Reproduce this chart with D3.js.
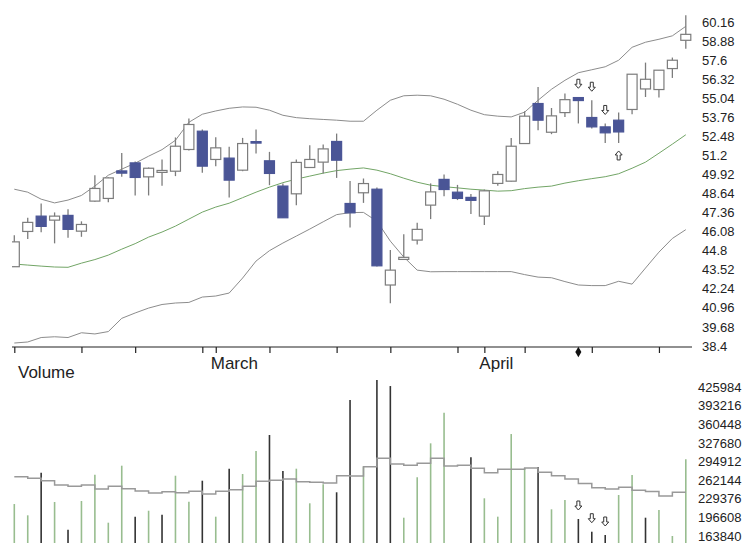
<!DOCTYPE html>
<html>
<head>
<meta charset="utf-8">
<script src="https://cdnjs.cloudflare.com/ajax/libs/d3/7.8.5/d3.min.js"></script>
<style>
body{margin:0;background:#fff;}
svg text{font-family:"Liberation Sans Narrow","Arial Narrow","Liberation Sans",Arial,sans-serif;fill:#222;}
</style>
</head>
<body>
<div id="chart"></div>
<script>
var W = 750, H = 559;

// daily candles
var opens  = [43.73,46.10,47.13,46.86,47.18,46.12,48.14,48.32,50.17,50.71,49.77,50.07,50.15,51.61,52.84,50.94,51.03,50.22,52.14,50.85,49.15,48.63,50.40,50.76,52.15,47.98,48.70,48.94,42.50,44.22,45.52,47.87,49.60,48.74,48.39,47.13,49.33,49.48,52.01,54.70,52.77,54.09,55.10,53.76,53.13,53.58,54.30,55.68,55.64,57.05,58.95];
var highs  = [45.85,47.02,47.98,47.38,47.60,46.78,49.88,49.75,51.38,50.80,50.40,50.94,52.42,53.69,52.95,52.44,51.79,52.39,52.95,51.45,49.33,50.94,51.90,51.95,52.68,49.50,49.66,49.06,44.85,45.92,46.68,49.33,49.93,49.23,48.61,48.92,50.15,52.39,54.18,55.81,54.40,55.37,55.12,54.92,53.36,54.09,56.67,57.45,56.94,57.79,60.63];
var lows   = [43.73,45.59,46.04,45.30,45.67,45.74,48.09,48.07,49.77,48.52,48.52,49.17,49.82,51.55,50.04,50.49,48.38,50.15,51.34,49.21,47.00,47.87,50.38,50.00,49.70,46.37,48.02,43.75,41.27,44.20,45.23,46.93,48.47,48.21,47.27,46.53,49.17,49.45,51.98,52.91,52.64,53.80,53.36,53.02,52.05,52.05,53.98,55.14,55.10,56.42,58.39];
var closes = [45.40,46.71,46.44,47.13,46.24,46.57,48.99,49.70,50.02,49.73,50.35,50.20,51.83,53.29,50.49,51.72,49.55,52.01,52.06,50.00,47.02,50.74,50.94,51.65,50.89,47.35,49.32,43.79,43.50,44.36,46.24,48.76,48.92,48.32,48.19,48.83,49.93,51.83,53.85,53.58,53.87,54.96,54.90,53.13,52.73,52.79,56.67,56.33,56.94,57.61,59.35];

// bollinger bands
var upperBand = [48.94,48.74,48.27,48.02,48.21,48.52,49.15,49.88,50.29,50.69,51.16,51.60,52.23,53.44,53.98,54.20,54.38,54.47,54.45,54.25,53.91,53.75,53.68,53.63,53.58,53.51,53.51,54.25,54.92,55.22,55.26,55.22,54.99,54.65,54.25,53.95,53.85,53.80,54.12,54.92,55.66,56.26,56.77,56.97,57.17,57.61,58.48,58.82,59.02,59.25,59.89];
var midBand   = [43.91,43.84,43.77,43.71,43.69,43.97,44.21,44.51,44.91,45.28,45.72,46.06,46.46,46.93,47.40,47.74,48.00,48.37,48.74,49.08,49.38,49.62,49.82,50.02,50.19,50.29,50.37,50.22,49.98,49.68,49.41,49.21,49.11,49.03,48.94,48.88,48.81,48.84,48.98,49.08,49.15,49.35,49.51,49.65,49.78,49.98,50.35,50.76,51.36,51.97,52.60];
var lowerBand = [38.60,38.67,38.97,39.02,38.97,39.29,39.21,39.37,40.26,40.62,40.95,41.19,41.29,41.33,41.69,41.76,41.96,42.97,44.11,44.81,45.32,45.79,46.26,46.75,47.23,47.37,47.38,46.79,45.45,44.38,43.50,43.39,43.40,43.40,43.40,43.40,43.40,43.40,43.20,43.03,42.99,42.73,42.50,42.46,42.46,42.75,42.56,43.64,44.71,45.63,46.22];

// volume and its moving average
var volumes   = [220200,200300,275400,223800,174900,225500,271900,187300,287800,197900,208400,201400,270100,224300,261300,197900,282500,273100,313700,341900,278400,282500,221500,255000,240900,403600,286000,438800,428200,196100,267300,327200,381200,140000,302600,230300,197900,343600,283700,285500,210900,227300,193800,171400,165600,236100,271400,196100,209700,163840,299000];
var volumeAvg = [268400,265500,261300,253700,251400,253700,246700,251400,247200,243200,239600,241900,240200,242600,237900,242600,245500,251400,260300,262000,264300,259600,258500,257300,270100,269600,286000,300800,290800,288500,292000,300800,287200,288500,283200,275400,281400,281400,283700,276100,270100,264300,256400,249000,246700,249900,244600,242300,234300,241000,241000];

var priceTicks  = [38.4,39.68,40.96,42.24,43.52,44.8,46.08,47.36,48.64,49.92,51.2,52.48,53.76,55.04,56.32,57.6,58.88,60.16];
var volumeTicks = [163840,196608,229376,262144,294912,327680,360448,393216,425984];
var weekTicks   = [0,5,9,14,19,24,28,33,38,43,48];
var monthTicks  = [15,35];
var monthLabels = ["March","April"];
var sellSignals = [42,43,44];
var buySignals  = [45];
var markerDay   = 42;

var upColor = "#ffffff";
var downColor = "#4a5596";
var wickColor = "#7c7c7c";
var volUpColor = "#98bd8f";
var volDownColor = "#333333";

var plotLeft = 12, plotRight = 692;
var priceBottom = 347, volTop = 378, volBottom = 543;

var svg = d3.select("#chart").append("svg")
	.attr("width", W).attr("height", H)
	.attr("viewBox", "0 0 " + W + " " + H);

var x = d3.scaleLinear().domain([0, closes.length - 1]).range([14.3, 685.8]);
var y = d3.scaleLinear().domain([38.4, 60.16]).range([346, 22.3]);
var yV = d3.scaleLinear().domain([163840, 425984]).range([536, 387.3]);

svg.append("clipPath").attr("id", "clipP").append("rect")
	.attr("x", plotLeft).attr("y", 0).attr("width", plotRight - plotLeft).attr("height", priceBottom);
svg.append("clipPath").attr("id", "clipV").append("rect")
	.attr("x", plotLeft).attr("y", volTop).attr("width", plotRight - plotLeft).attr("height", volBottom - volTop);

var idx = d3.range(closes.length);

// bands
var pricePane = svg.append("g").attr("clip-path", "url(#clipP)");
function bandLine(arr){
	return d3.line().x(function(i){ return x(i); }).y(function(i){ return y(arr[i]); })(idx);
}
pricePane.append("path").attr("d", bandLine(upperBand)).attr("fill", "none").attr("stroke", "#8c8c8c").attr("stroke-width", 1);
pricePane.append("path").attr("d", bandLine(lowerBand)).attr("fill", "none").attr("stroke", "#8c8c8c").attr("stroke-width", 1);
pricePane.append("path").attr("d", bandLine(midBand)).attr("fill", "none").attr("stroke", "#72a566").attr("stroke-width", 1);

// candles
var candle = pricePane.selectAll("g.candle").data(idx).enter().append("g").attr("class", "candle");
candle.append("line")
	.attr("x1", function(i){ return x(i); }).attr("x2", function(i){ return x(i); })
	.attr("y1", function(i){ return y(highs[i]); }).attr("y2", function(i){ return y(lows[i]); })
	.attr("stroke", wickColor).attr("stroke-width", 1.3);
candle.append("rect")
	.attr("x", function(i){ return x(i) - 5; })
	.attr("width", 10)
	.attr("y", function(i){ return y(Math.max(opens[i], closes[i])); })
	.attr("height", function(i){ return Math.max(1.5, Math.abs(y(opens[i]) - y(closes[i]))); })
	.attr("fill", function(i){ return closes[i] >= opens[i] ? upColor : downColor; })
	.attr("stroke", function(i){ return closes[i] >= opens[i] ? wickColor : downColor; })
	.attr("stroke-width", 1.2);

// hollow arrows
function arrowPath(cx, tipY, dir){
	// dir 1 = pointing down, -1 = pointing up
	var p = [[0,0],[-3.5,-4],[-1.5,-4],[-1.5,-9],[1.5,-9],[1.5,-4],[3.5,-4]];
	return "M" + p.map(function(q){ return (cx + q[0]) + "," + (tipY + q[1] * dir); }).join("L") + "Z";
}
svg.selectAll("path.sell").data(sellSignals).enter().append("path")
	.attr("d", function(i){ return arrowPath(x(i), y(highs[i]) - 9, 1); })
	.attr("fill", "#fff").attr("stroke", "#333").attr("stroke-width", 1);
svg.selectAll("path.buy").data(buySignals).enter().append("path")
	.attr("d", function(i){ return arrowPath(x(i), y(lows[i]) + 8, -1); })
	.attr("fill", "#fff").attr("stroke", "#333").attr("stroke-width", 1);

// time axis
svg.append("line").attr("x1", plotLeft).attr("x2", plotRight).attr("y1", priceBottom).attr("y2", priceBottom)
	.attr("stroke", "#222").attr("stroke-width", 1.2);
var axis = svg.append("g").attr("transform", "translate(0," + priceBottom + ")")
	.call(d3.axisBottom(x).tickValues(weekTicks.concat(monthTicks)).tickSize(6).tickFormat(""));
axis.select(".domain").remove();
axis.selectAll(".tick line").attr("stroke", "#222").attr("stroke-width", 1.2);
svg.selectAll("text.month").data(monthTicks).enter().append("text")
	.attr("x", function(d){ return x(d) - 5; }).attr("y", 369)
	.attr("font-size", 17)
	.text(function(d, k){ return monthLabels[k]; });
svg.append("path")
	.attr("d", d3.symbol(d3.symbolDiamond).size(32)())
	.attr("transform", "translate(" + x(markerDay) + ",352)")
	.attr("fill", "#111");

// price labels
svg.selectAll("text.ptick").data(priceTicks).enter().append("text")
	.attr("x", 702).attr("y", function(d){ return y(d); })
	.attr("dy", "0.35em").attr("font-size", 13)
	.text(function(d){ return String(d); });

// volume pane
svg.append("text").attr("x", 18).attr("y", 378).attr("font-size", 17).text("Volume");
var volPane = svg.append("g").attr("clip-path", "url(#clipV)");
volPane.selectAll("line.vol").data(idx).enter().append("line")
	.attr("x1", function(i){ return x(i); }).attr("x2", function(i){ return x(i); })
	.attr("y1", volBottom).attr("y2", function(i){ return Math.min(volBottom, yV(volumes[i])); })
	.attr("stroke", function(i){ return (i == 0 || closes[i] >= closes[i - 1]) ? volUpColor : volDownColor; })
	.attr("stroke-width", 1.6);
volPane.append("path")
	.attr("d", d3.line().x(function(i){ return x(i); }).y(function(i){ return yV(volumeAvg[i]); }).curve(d3.curveStepAfter)(idx))
	.attr("fill", "none").attr("stroke", "#999").attr("stroke-width", 1.5);
svg.selectAll("path.vsell").data(sellSignals).enter().append("path")
	.attr("d", function(i){ return arrowPath(x(i), yV(volumes[i]) - 9, 1); })
	.attr("fill", "#fff").attr("stroke", "#333").attr("stroke-width", 1);

svg.selectAll("text.vtick").data(volumeTicks).enter().append("text")
	.attr("x", 698).attr("y", function(d){ return yV(d); })
	.attr("dy", "0.35em").attr("font-size", 13)
	.text(function(d){ return String(d); });
</script>
</body>
</html>
